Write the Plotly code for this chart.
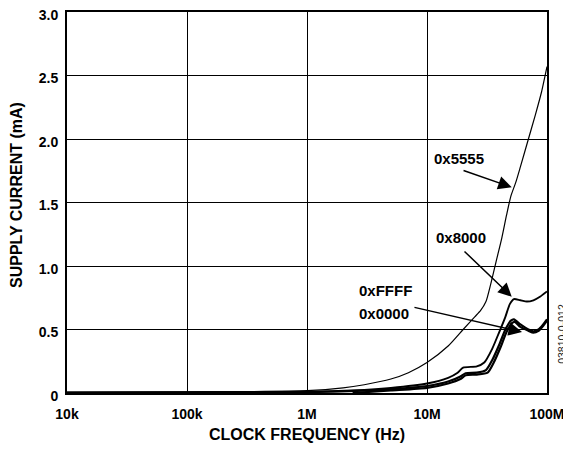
import plotly.graph_objects as go

# ---- data ----
f_5555 = [1e4, 1e5, 1e6, 2e6, 3e6, 5e6, 7e6, 1e7, 1.5e7, 2e7, 2.5e7, 2.8e7, 3.1e7,
          3.4e7, 3.8e7, 4.2e7, 4.6e7, 5e7, 5.5e7, 6e7, 7e7, 8e7, 9e7, 1e8]
i_5555 = [0.005, 0.008, 0.018, 0.04, 0.065, 0.11, 0.16, 0.24, 0.37, 0.50, 0.60, 0.65, 0.72,
          0.86, 1.05, 1.22, 1.40, 1.55, 1.66, 1.78, 2.0, 2.19, 2.37, 2.57]

f_8000 = [1e4, 1e5, 1e6, 3e6, 5e6, 1e7, 1.5e7, 1.8e7, 2.0e7, 2.6e7, 3.0e7, 3.5e7,
          4.0e7, 4.5e7, 4.9e7, 5.3e7, 6e7, 6.8e7, 7.7e7, 8.8e7, 1e8]
i_8000 = [0.003, 0.005, 0.01, 0.025, 0.04, 0.075, 0.12, 0.16, 0.20, 0.21, 0.24, 0.35,
          0.48, 0.60, 0.70, 0.74, 0.73, 0.72, 0.73, 0.76, 0.80]

f_ffff = [1e4, 1e6, 3e6, 5e6, 1e7, 1.5e7, 1.9e7, 2.1e7, 2.6e7, 3.1e7, 3.5e7, 4.0e7,
          4.5e7, 5.0e7, 5.3e7, 6e7, 7e7, 7.7e7, 8.5e7, 9.3e7, 1e8]
i_ffff = [0.003, 0.007, 0.018, 0.03, 0.055, 0.09, 0.13, 0.155, 0.16, 0.18, 0.26, 0.38,
          0.50, 0.57, 0.58, 0.54, 0.50, 0.485, 0.50, 0.54, 0.58]

f_0000 = [2.4e6, 5e6, 1e7, 1.5e7, 1.9e7, 2.1e7, 2.6e7, 3.2e7, 3.6e7, 4.1e7, 4.6e7,
          5.1e7, 5.4e7, 6e7, 7e7, 7.7e7, 8.5e7, 9.3e7, 1e8]
i_0000 = [0.0, 0.02, 0.04, 0.075, 0.11, 0.14, 0.145, 0.16, 0.24, 0.36, 0.48,
          0.55, 0.56, 0.52, 0.49, 0.475, 0.49, 0.53, 0.57]

x_tickvals = [1e4, 1e5, 1e6, 1e7, 1e8]
x_ticktext = ["10k", "100k", "1M", "10M", "100M"]
y_tickvals = [0, 0.5, 1.0, 1.5, 2.0, 2.5, 3.0]
y_ticktext = ["0", "0.5", "1.0", "1.5", "2.0", "2.5", "3.0"]

FONT = "Liberation Sans"

fig = go.Figure()
fig.add_trace(go.Scatter(x=f_5555, y=i_5555, mode="lines", name="0x5555",
                         line=dict(color="black", width=1.2, shape="spline", smoothing=0.6)))
fig.add_trace(go.Scatter(x=f_8000, y=i_8000, mode="lines", name="0x8000",
                         line=dict(color="black", width=1.9, shape="spline", smoothing=0.6)))
fig.add_trace(go.Scatter(x=f_ffff, y=i_ffff, mode="lines", name="0xFFFF",
                         line=dict(color="black", width=2.2, shape="spline", smoothing=0.6)))
fig.add_trace(go.Scatter(x=f_0000, y=i_0000, mode="lines", name="0x0000",
                         line=dict(color="black", width=2.2, shape="spline", smoothing=0.6)))

lab = dict(family=FONT, size=15, color="black")
ann = []
# series labels
ann.append(dict(x=7.267, y=1.843, xref="x", yref="y", text="<b>0x5555</b>", showarrow=False, font=lab))
ann.append(dict(x=7.283, y=1.228, xref="x", yref="y", text="<b>0x8000</b>", showarrow=False, font=lab))
ann.append(dict(x=6.658, y=0.811, xref="x", yref="y", text="<b>0xFFFF</b>", showarrow=False, font=lab))
ann.append(dict(x=6.642, y=0.626, xref="x", yref="y", text="<b>0x0000</b>", showarrow=False, font=lab))
# arrows
for tip, tail in [((7.706, 1.62), (7.292, 1.756)),
                  ((7.706, 0.758), (7.30, 1.126)),
                  ((7.792, 0.48), (6.883, 0.677))]:
    ann.append(dict(x=tip[0], y=tip[1], ax=tail[0], ay=tail[1], xref="x", yref="y",
                    axref="x", ayref="y", text="", showarrow=True, arrowhead=2,
                    arrowsize=1.8, arrowwidth=1.5, arrowcolor="black"))
# axis titles
ann.append(dict(x=0.5, y=-0.11, xref="paper", yref="paper", text="<b>CLOCK FREQUENCY (Hz)</b>",
                xanchor="center", yanchor="middle",
                showarrow=False, font=dict(family=FONT, size=16, color="black")))
ann.append(dict(x=-0.104, y=0.52, xref="paper", yref="paper", text="<b>SUPPLY CURRENT (mA)</b>",
                xanchor="center", yanchor="middle",
                showarrow=False, textangle=-90, font=dict(family=FONT, size=16, color="black")))
# figure id
ann.append(dict(x=1.031, y=0.155, xref="paper", yref="paper", text="03810-0-012",
                xanchor="center", yanchor="middle",
                showarrow=False, textangle=-90, font=dict(family=FONT, size=10.5, color="#222222")))

# page body adds an 8px margin; figure is sized so the plot lands where the reference has it
fig.update_layout(
    width=563, height=441,
    margin=dict(l=59, r=24, t=4, b=56),
    paper_bgcolor="white", plot_bgcolor="white",
    showlegend=False,
    annotations=ann,
    xaxis=dict(type="log", range=[4, 8], tickvals=x_tickvals,
               ticktext=["<b>%s</b>" % t for t in x_ticktext], automargin=False,
               showgrid=True, gridcolor="black", gridwidth=1,
               showline=True, linecolor="black", linewidth=2, mirror=True,
               ticks="outside", ticklen=7, tickcolor="rgba(0,0,0,0)",
               ticklabeloverflow="allow",
               tickfont=dict(family=FONT, size=14, color="black"), zeroline=False),
    yaxis=dict(range=[0, 3], tickvals=y_tickvals,
               ticktext=["<b>%s</b>" % t for t in y_ticktext], automargin=False,
               showgrid=True, gridcolor="black", gridwidth=1,
               showline=True, linecolor="black", linewidth=2, mirror=True,
               ticks="outside", ticklen=4, tickcolor="rgba(0,0,0,0)",
               ticklabeloverflow="allow", ticklabelshift=3,
               tickfont=dict(family=FONT, size=14, color="black"), zeroline=False),
)

fig.write_html("out.html")
